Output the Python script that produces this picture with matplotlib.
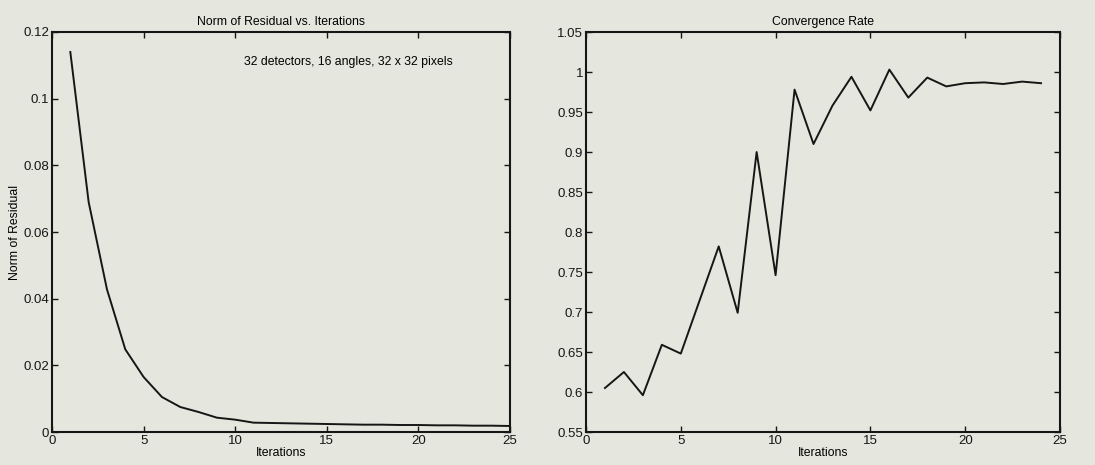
import matplotlib
matplotlib.use("Agg")
import matplotlib.pyplot as plt

# data
iters_res = list(range(1, 26))
residual = [0.114, 0.069, 0.0428, 0.0248, 0.0165, 0.0105, 0.0075, 0.006, 0.0043,
            0.0037, 0.0028, 0.0027, 0.0026, 0.0025, 0.0024, 0.0023, 0.0022, 0.0022,
            0.0021, 0.0021, 0.0020, 0.0020, 0.0019, 0.0019, 0.0018]

iters_rate = list(range(1, 25))
rate = [0.605, 0.625, 0.596, 0.659, 0.648, 0.715, 0.782, 0.699, 0.900, 0.746,
        0.978, 0.910, 0.958, 0.994, 0.952, 1.003, 0.968, 0.993, 0.982, 0.986,
        0.987, 0.985, 0.988, 0.986]

res_yticks = [0, 0.02, 0.04, 0.06, 0.08, 0.1, 0.12]
res_ylabels = ["0", "0.02", "0.04", "0.06", "0.08", "0.1", "0.12"]
rate_yticks = [0.55, 0.6, 0.65, 0.7, 0.75, 0.8, 0.85, 0.9, 0.95, 1.0, 1.05]
rate_ylabels = ["0.55", "0.6", "0.65", "0.7", "0.75", "0.8", "0.85", "0.9", "0.95", "1", "1.05"]
xticks = [0, 5, 10, 15, 20, 25]

bg = "#e5e6dd"
ink = "#161616"
plt.rcParams["font.family"] = ["Liberation Sans", "DejaVu Sans"]
plt.rcParams["font.size"] = 8.8

fig = plt.figure(figsize=(10.95, 4.65), dpi=100, facecolor=bg)
ax1 = fig.add_axes([52 / 1095, 1 - 432 / 465, 458 / 1095, 400 / 465])
ax2 = fig.add_axes([586 / 1095, 1 - 432 / 465, 474 / 1095, 400 / 465])

for ax in (ax1, ax2):
    ax.set_facecolor(bg)
    for s in ax.spines.values():
        s.set_linewidth(1.5)
        s.set_color(ink)
    ax.tick_params(direction="in", top=True, right=True, length=4, width=1,
                   pad=2, labelsize=9.5, colors=ink)
    ax.set_xlim(0, 25)
    ax.set_xticks(xticks)

ax1.plot(iters_res, residual, color=ink, lw=1.4)
ax1.set_ylim(0, 0.12)
ax1.set_yticks(res_yticks)
ax1.set_yticklabels(res_ylabels)
ax1.set_title("Norm of Residual vs. Iterations", fontsize=8.8, pad=5)
ax1.set_xlabel("Iterations", fontsize=8.8, labelpad=0)
ax1.set_ylabel("Norm of Residual", fontsize=8.8, labelpad=2)
ax1.text(10.5, 0.111, "32 detectors, 16 angles, 32 x 32 pixels", fontsize=8.8,
         ha="left", va="center")

ax2.plot(iters_rate, rate, color=ink, lw=1.4)
ax2.set_ylim(0.55, 1.05)
ax2.set_yticks(rate_yticks)
ax2.set_yticklabels(rate_ylabels)
ax2.set_title("Convergence Rate", fontsize=8.8, pad=5)
ax2.set_xlabel("Iterations", fontsize=8.8, labelpad=0)

fig.savefig("out.png", dpi=100, facecolor=bg)
